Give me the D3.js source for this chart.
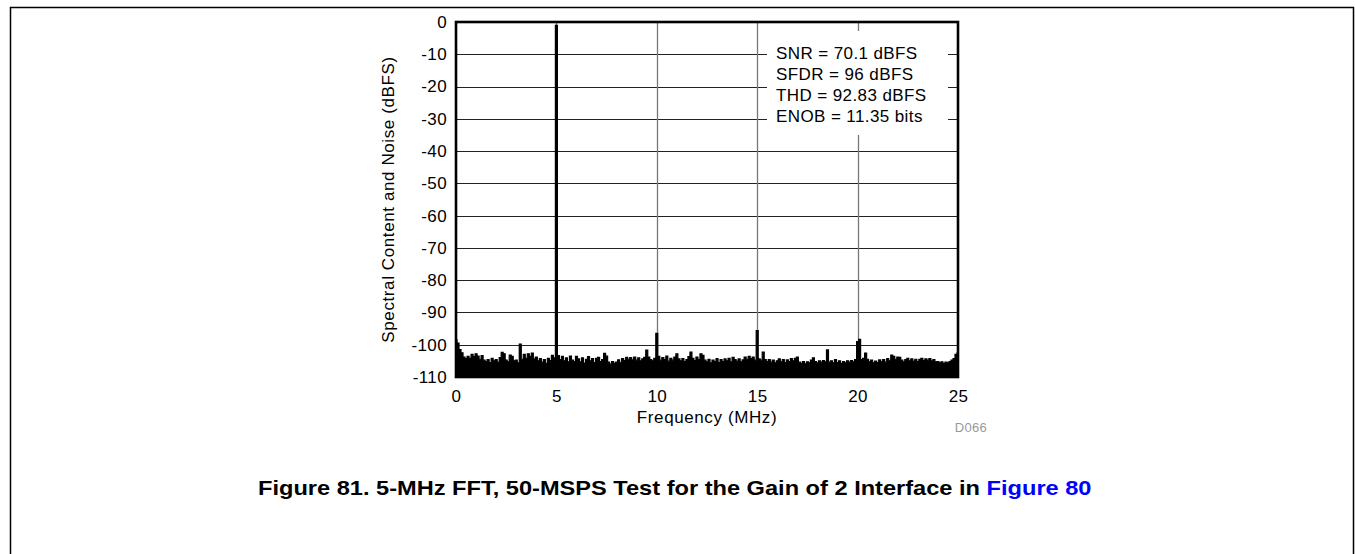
<!DOCTYPE html>
<html>
<head>
<meta charset="utf-8">
<script src="https://cdn.jsdelivr.net/npm/d3@7"></script>
<style>
  html, body { margin: 0; padding: 0; background: #fff; }
  svg { display: block; }
  text { font-family: "Liberation Sans", Arial, Helvetica, sans-serif; }
</style>
</head>
<body>
<svg id="chart" width="1355" height="554"></svg>
<script>
// ---- data ----
const xTicks = [0, 5, 10, 15, 20, 25];
const yTicks = [0, -10, -20, -30, -40, -50, -60, -70, -80, -90, -100, -110];
const binStepMHz = 0.1;   // spectrum bins, 0 .. 25 MHz
const spectrumDbfs = [
  -98.5, -99.5, -101.5, -102.5, -103.8, -104.3, -103.6, -104.2, -103.0, -103.7,
  -102.8, -103.5, -104.5, -103.4, -104.8, -105.2, -104.6, -105.5, -104.2, -105.0,
  -104.6, -105.4, -104.0, -102.4, -102.8, -104.8, -105.3, -103.2, -103.6, -105.0,
  -104.8, -105.6, -99.8, -104.5, -103.0, -104.2, -102.8, -103.6, -102.6, -104.4,
  -103.8, -105.0, -104.3, -105.4, -104.6, -105.8, -104.2, -104.9, -103.3, -104.1,
  -1.0,
  -103.4, -104.6, -103.6, -105.0, -104.1, -105.3, -103.5, -104.8, -105.2,
  -103.6, -104.4, -105.3, -104.1, -105.7, -104.5, -103.7, -105.0, -104.3, -105.5,
  -104.2, -103.9, -105.2, -104.6, -102.7, -103.5, -105.4, -106.0, -105.2, -105.8,
  -105.4, -104.7, -105.6, -104.3, -104.9, -103.9, -104.5, -104.0, -104.7, -103.8,
  -104.8, -104.1, -105.0, -104.4, -103.9, -101.7, -103.8, -104.6, -105.0, -104.2,
  -96.5,
  -103.6, -104.8, -104.0, -104.6, -103.5, -105.1, -104.2, -104.8, -103.8,
  -102.8, -104.4, -105.0, -104.3, -105.2, -104.6, -103.7, -102.3, -104.2, -104.9,
  -103.8, -104.6, -102.8, -103.3, -104.8, -105.3, -104.5, -105.6, -104.8, -105.2,
  -104.3, -105.5, -104.6, -105.2, -104.4, -105.0, -104.2, -105.3, -103.9, -104.6,
  -105.1, -104.4, -105.3, -104.7, -103.8, -104.5, -103.6, -104.3, -103.8, -104.8,
  -95.6,
  -104.4, -104.8, -102.3, -104.6, -105.2, -104.6, -105.4, -104.8, -105.6,
  -105.0, -104.4, -105.3, -104.6, -105.5, -104.7, -105.2, -104.3, -105.0, -104.2,
  -103.8, -105.4, -105.8, -105.2, -105.9, -105.3, -105.6, -104.8, -104.1, -105.2,
  -105.6, -105.0, -105.4, -104.9, -105.3, -101.6, -105.4, -105.0, -105.6, -104.6,
  -105.5, -105.0, -105.8, -105.2, -105.6, -105.0, -105.4, -104.9, -105.3, -104.6,
  -99.0, -98.3,
  -104.6, -104.2, -102.6, -104.5, -105.3, -104.8, -105.6, -105.1,
  -105.5, -104.7, -105.2, -104.6, -105.4, -104.3, -105.0, -103.2, -103.6, -104.5,
  -103.8, -103.9, -104.8, -105.3, -104.6, -104.2, -105.0, -104.4, -105.1, -104.5,
  -105.2, -104.5, -104.2, -104.9, -104.4, -104.8, -104.3, -105.0, -104.6, -105.3,
  -105.2, -105.6, -105.3, -105.8, -105.4, -105.6, -105.2, -104.8, -104.3, -103.0,
  -102.5
];
const statLines = [
  "SNR = 70.1 dBFS",
  "SFDR = 96 dBFS",
  "THD = 92.83 dBFS",
  "ENOB = 11.35 bits"
];
const xTitle = "Frequency (MHz)";
const yTitle = "Spectral Content and Noise (dBFS)";
const figureId = "D066";
const captionMain = "Figure 81. 5-MHz FFT, 50-MSPS Test for the Gain of 2 Interface in ";
const captionLink = "Figure 80";

// ---- layout ----
const svg = d3.select("#chart");
const plot = { left: 456, right: 958, top: 22, bottom: 377 };

const x = d3.scaleLinear().domain([0, 25]).range([plot.left, plot.right]);
const y = d3.scaleLinear().domain([-110, 0]).range([plot.bottom, plot.top]);

// page frame
svg.append("path")
  .attr("d", `M10.5,560 V7.5 H1353.5 V560`)
  .attr("fill", "none").attr("stroke", "#000").attr("stroke-width", 1.5);

// grid
const grid = svg.append("g");
grid.selectAll("line.h").data(yTicks.filter(v => v !== 0 && v !== -110)).join("line")
  .attr("x1", plot.left).attr("x2", plot.right)
  .attr("y1", d => Math.round(y(d)) + 0.5).attr("y2", d => Math.round(y(d)) + 0.5)
  .attr("stroke", "#222").attr("stroke-width", 1);
grid.selectAll("line.v").data(xTicks.filter(v => v !== 0 && v !== 25)).join("line")
  .attr("y1", plot.top).attr("y2", plot.bottom)
  .attr("x1", d => Math.round(x(d)) + 0.5).attr("x2", d => Math.round(x(d)) + 0.5)
  .attr("stroke", "#777").attr("stroke-width", 1.3);

// stats box (white backing)
svg.append("rect")
  .attr("x", 767).attr("y", 31).attr("width", 181).attr("height", 104)
  .attr("fill", "#fff");

// spectrum
svg.append("clipPath").attr("id", "clip").append("rect")
  .attr("x", plot.left).attr("y", plot.top)
  .attr("width", plot.right - plot.left).attr("height", plot.bottom - plot.top);

const area = d3.area()
  .x((d, i) => x(i * binStepMHz))
  .y0(y(-110))
  .y1(d => y(d))
  .curve(d3.curveStep);

svg.append("path")
  .datum(spectrumDbfs)
  .attr("clip-path", "url(#clip)")
  .attr("d", area)
  .attr("fill", "#000")
  .attr("stroke", "#000")
  .attr("stroke-width", 1.2)
  .attr("stroke-linejoin", "miter");

// plot frame
svg.append("rect")
  .attr("x", plot.left).attr("y", plot.top)
  .attr("width", plot.right - plot.left).attr("height", plot.bottom - plot.top)
  .attr("fill", "none").attr("stroke", "#000").attr("stroke-width", 2.6);

// axes (labels only, via d3 axes)
const fmt = d => String(d);   // plain hyphen-minus like the reference
const yAxis = svg.append("g")
  .attr("transform", `translate(${plot.left},0)`)
  .call(d3.axisLeft(y).tickValues(yTicks).tickSize(0).tickPadding(9).tickFormat(fmt));
const xAxis = svg.append("g")
  .attr("transform", `translate(0,${plot.bottom})`)
  .call(d3.axisBottom(x).tickValues(xTicks).tickSize(0).tickPadding(13).tickFormat(fmt));
[yAxis, xAxis].forEach(g => {
  g.select(".domain").remove();
  g.selectAll("text")
    .attr("font-family", "'Liberation Sans', Arial, sans-serif")
    .attr("font-size", 17).attr("fill", "#000")
    .style("letter-spacing", "0.4px");
});

// axis titles
svg.append("text")
  .attr("x", (plot.left + plot.right) / 2).attr("y", 423)
  .attr("text-anchor", "middle").attr("font-size", 17)
  .style("letter-spacing", "0.6px")
  .text(xTitle);

svg.append("text")
  .attr("transform", `translate(394,${(plot.top + plot.bottom) / 2}) rotate(-90)`)
  .attr("text-anchor", "middle").attr("font-size", 17)
  .style("letter-spacing", "0.6px")
  .text(yTitle);

svg.append("text")
  .attr("x", 987).attr("y", 432)
  .attr("text-anchor", "end").attr("font-size", 13)
  .attr("fill", "#999")
  .style("letter-spacing", "0.3px")
  .text(figureId);

// stats
svg.append("g").selectAll("text").data(statLines).join("text")
  .attr("x", 776).attr("y", (d, i) => 58.5 + i * 21)
  .attr("font-size", 17)
  .style("letter-spacing", "0.4px")
  .text(d => d);

// caption
const capG = svg.append("g");
const cap = capG.append("text")
  .attr("x", 0).attr("y", 0)
  .attr("text-anchor", "start")
  .attr("font-size", 19.5).attr("font-weight", "bold");
cap.append("tspan").text(captionMain);
cap.append("tspan").attr("fill", "#0000ff").text(captionLink);
const capW = cap.node().getComputedTextLength();
const capTarget = { left: 258, right: 1092, baseline: 495 };
const sx = (capTarget.right - capTarget.left) / capW;
capG.attr("transform", `translate(${capTarget.left},${capTarget.baseline}) scale(${sx},1)`);
</script>
</body>
</html>
